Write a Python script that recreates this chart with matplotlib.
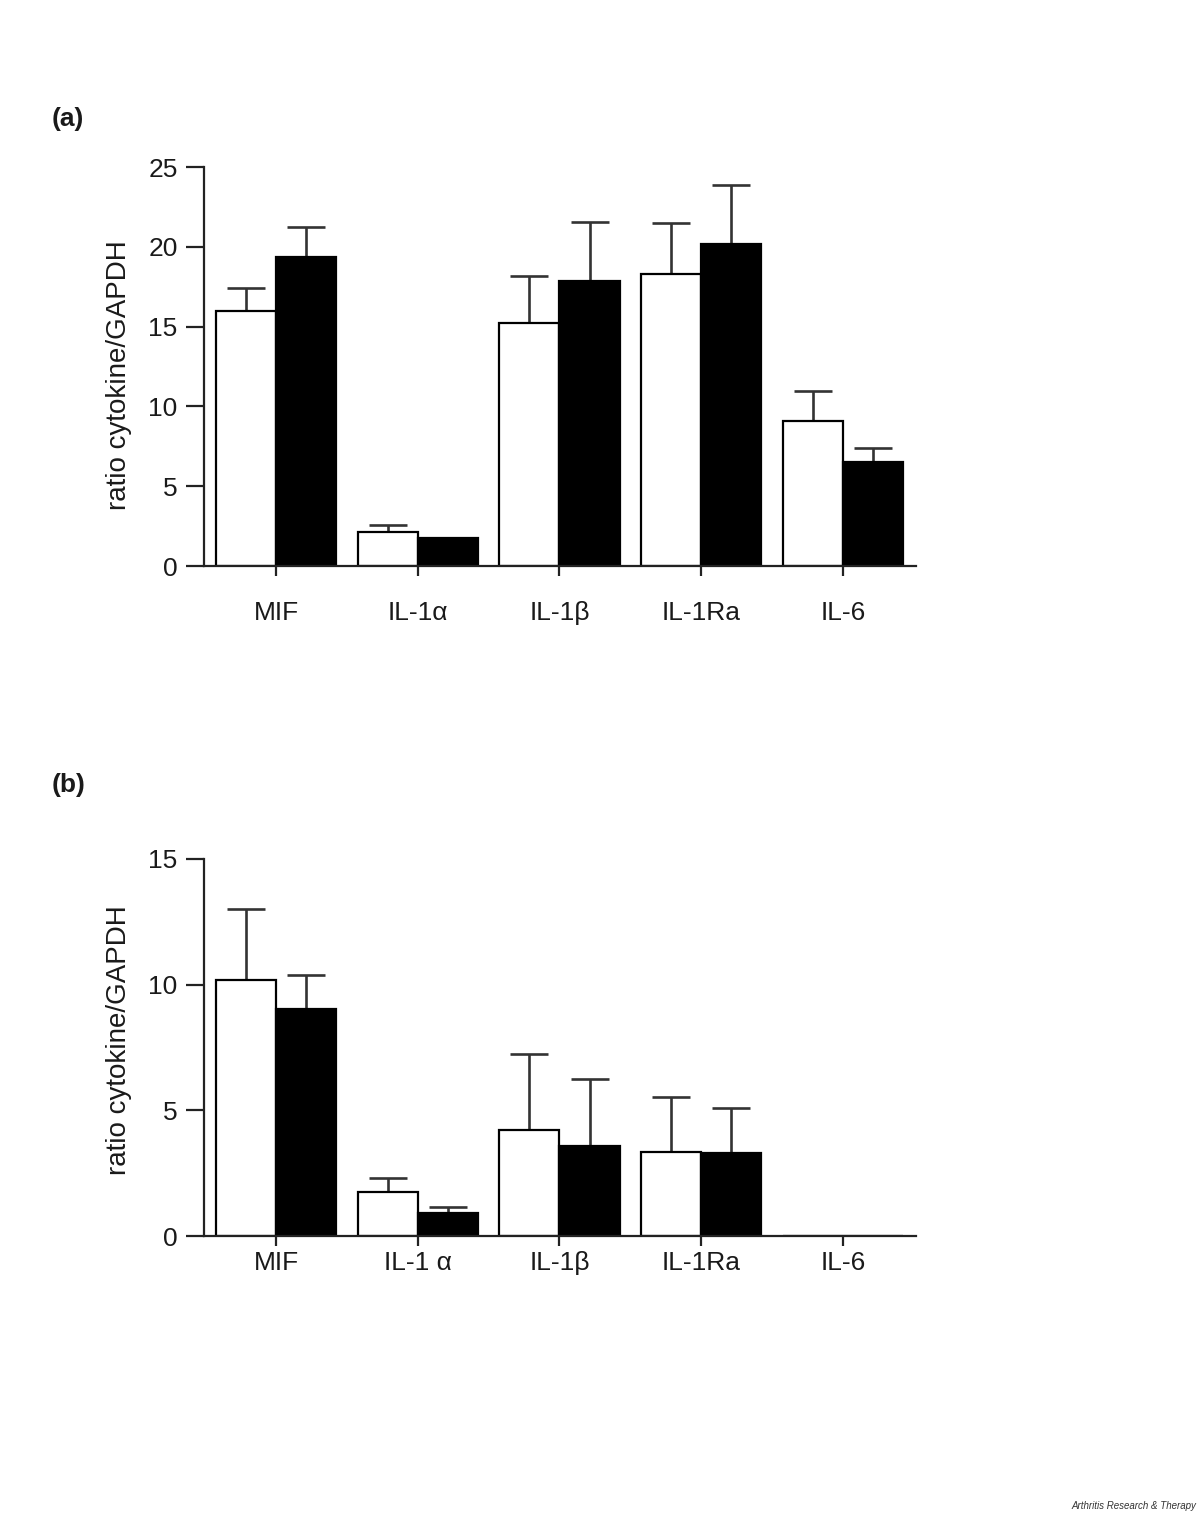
"""Two-panel grouped bar chart: cytokine/GAPDH mRNA ratios, open vs filled bars."""
import numpy as np
import matplotlib
matplotlib.use("Agg")
import matplotlib.pyplot as plt

plt.rcParams["font.family"] = ["Liberation Sans", "DejaVu Sans"]

TXT = "#1a1a1a"

labels_a = ["MIF", "IL-1\u03b1", "IL-1\u03b2", "IL-1Ra", "IL-6"]
labels_b = ["MIF", "IL-1 \u03b1", "IL-1\u03b2", "IL-1Ra", "IL-6"]

# panel (a)
a_white = [16.0, 2.15, 15.2, 18.3, 9.1]
a_white_err = [1.45, 0.4, 3.0, 3.2, 1.85]
a_black = [19.35, 1.75, 17.85, 20.2, 6.5]
a_black_err = [1.9, 0.0, 3.7, 3.7, 0.9]

# panel (b)
b_white = [10.2, 1.75, 4.2, 3.35, 0.0]
b_white_err = [2.8, 0.55, 3.05, 2.2, 0.0]
b_black = [9.05, 0.9, 3.6, 3.3, 0.0]
b_black_err = [1.35, 0.27, 2.65, 1.8, 0.0]

W = 0.425


def panel(ax, labels, white, white_err, black, black_err, ymax, yticks, xpad, ylab_y):
    x = np.arange(len(labels))
    ax.bar(x - W / 2, white, W, color="white", edgecolor="black", linewidth=1.6, zorder=2)
    ax.bar(x + W / 2, black, W, color="black", edgecolor="black", linewidth=1.6, zorder=2)
    for xs, v, e in ((x - W / 2, white, white_err), (x + W / 2, black, black_err)):
        v = np.asarray(v); e = np.asarray(e)
        m = e > 0
        ax.errorbar(xs[m], v[m], yerr=[np.zeros(m.sum()), e[m]], fmt="none",
                    ecolor="#333333", elinewidth=1.9, capsize=14, capthick=1.9, zorder=1)
    ax.set_xlim(-0.508, 4.515)
    ax.set_ylim(0, ymax)
    ax.set_yticks(yticks)
    ax.set_xticks(x)
    ax.set_xticklabels(labels)
    for s in ("top", "right"):
        ax.spines[s].set_visible(False)
    for s in ("left", "bottom"):
        ax.spines[s].set_linewidth(1.6)
        ax.spines[s].set_color("#222222")
    ax.tick_params(axis="y", length=13, width=1.6, pad=6, labelsize=19, colors="#222222",
                   labelcolor=TXT)
    ax.tick_params(axis="x", length=7, width=1.6, pad=xpad, labelsize=19, colors="#222222",
                   labelcolor=TXT)
    ax.set_ylabel("ratio cytokine/GAPDH", fontsize=20, color=TXT)
    ax.yaxis.set_label_coords(-0.101, ylab_y)


fig = plt.figure(figsize=(12, 15.2), dpi=100)
ax_a = fig.add_axes([0.17, 0.6276, 0.5933, 0.2625])
ax_b = fig.add_axes([0.17, 0.1868, 0.5933, 0.2481])

panel(ax_a, labels_a, a_white, a_white_err, a_black, a_black_err, 25, [0, 5, 10, 15, 20, 25], 18, 0.4775)
panel(ax_b, labels_b, b_white, b_white_err, b_black, b_black_err, 15, [0, 5, 10, 15], 3.5, 0.52)

fig.text(0.043, 0.9217, "(a)", fontsize=19, fontweight="bold", va="center", color=TXT)
fig.text(0.043, 0.4836, "(b)", fontsize=19, fontweight="bold", va="center", color=TXT)
fig.text(0.997, 0.0095, "Arthritis Research & Therapy", fontsize=7, style="italic",
         ha="right", va="center", color="#333333")

fig.savefig("out.png", dpi=100)
